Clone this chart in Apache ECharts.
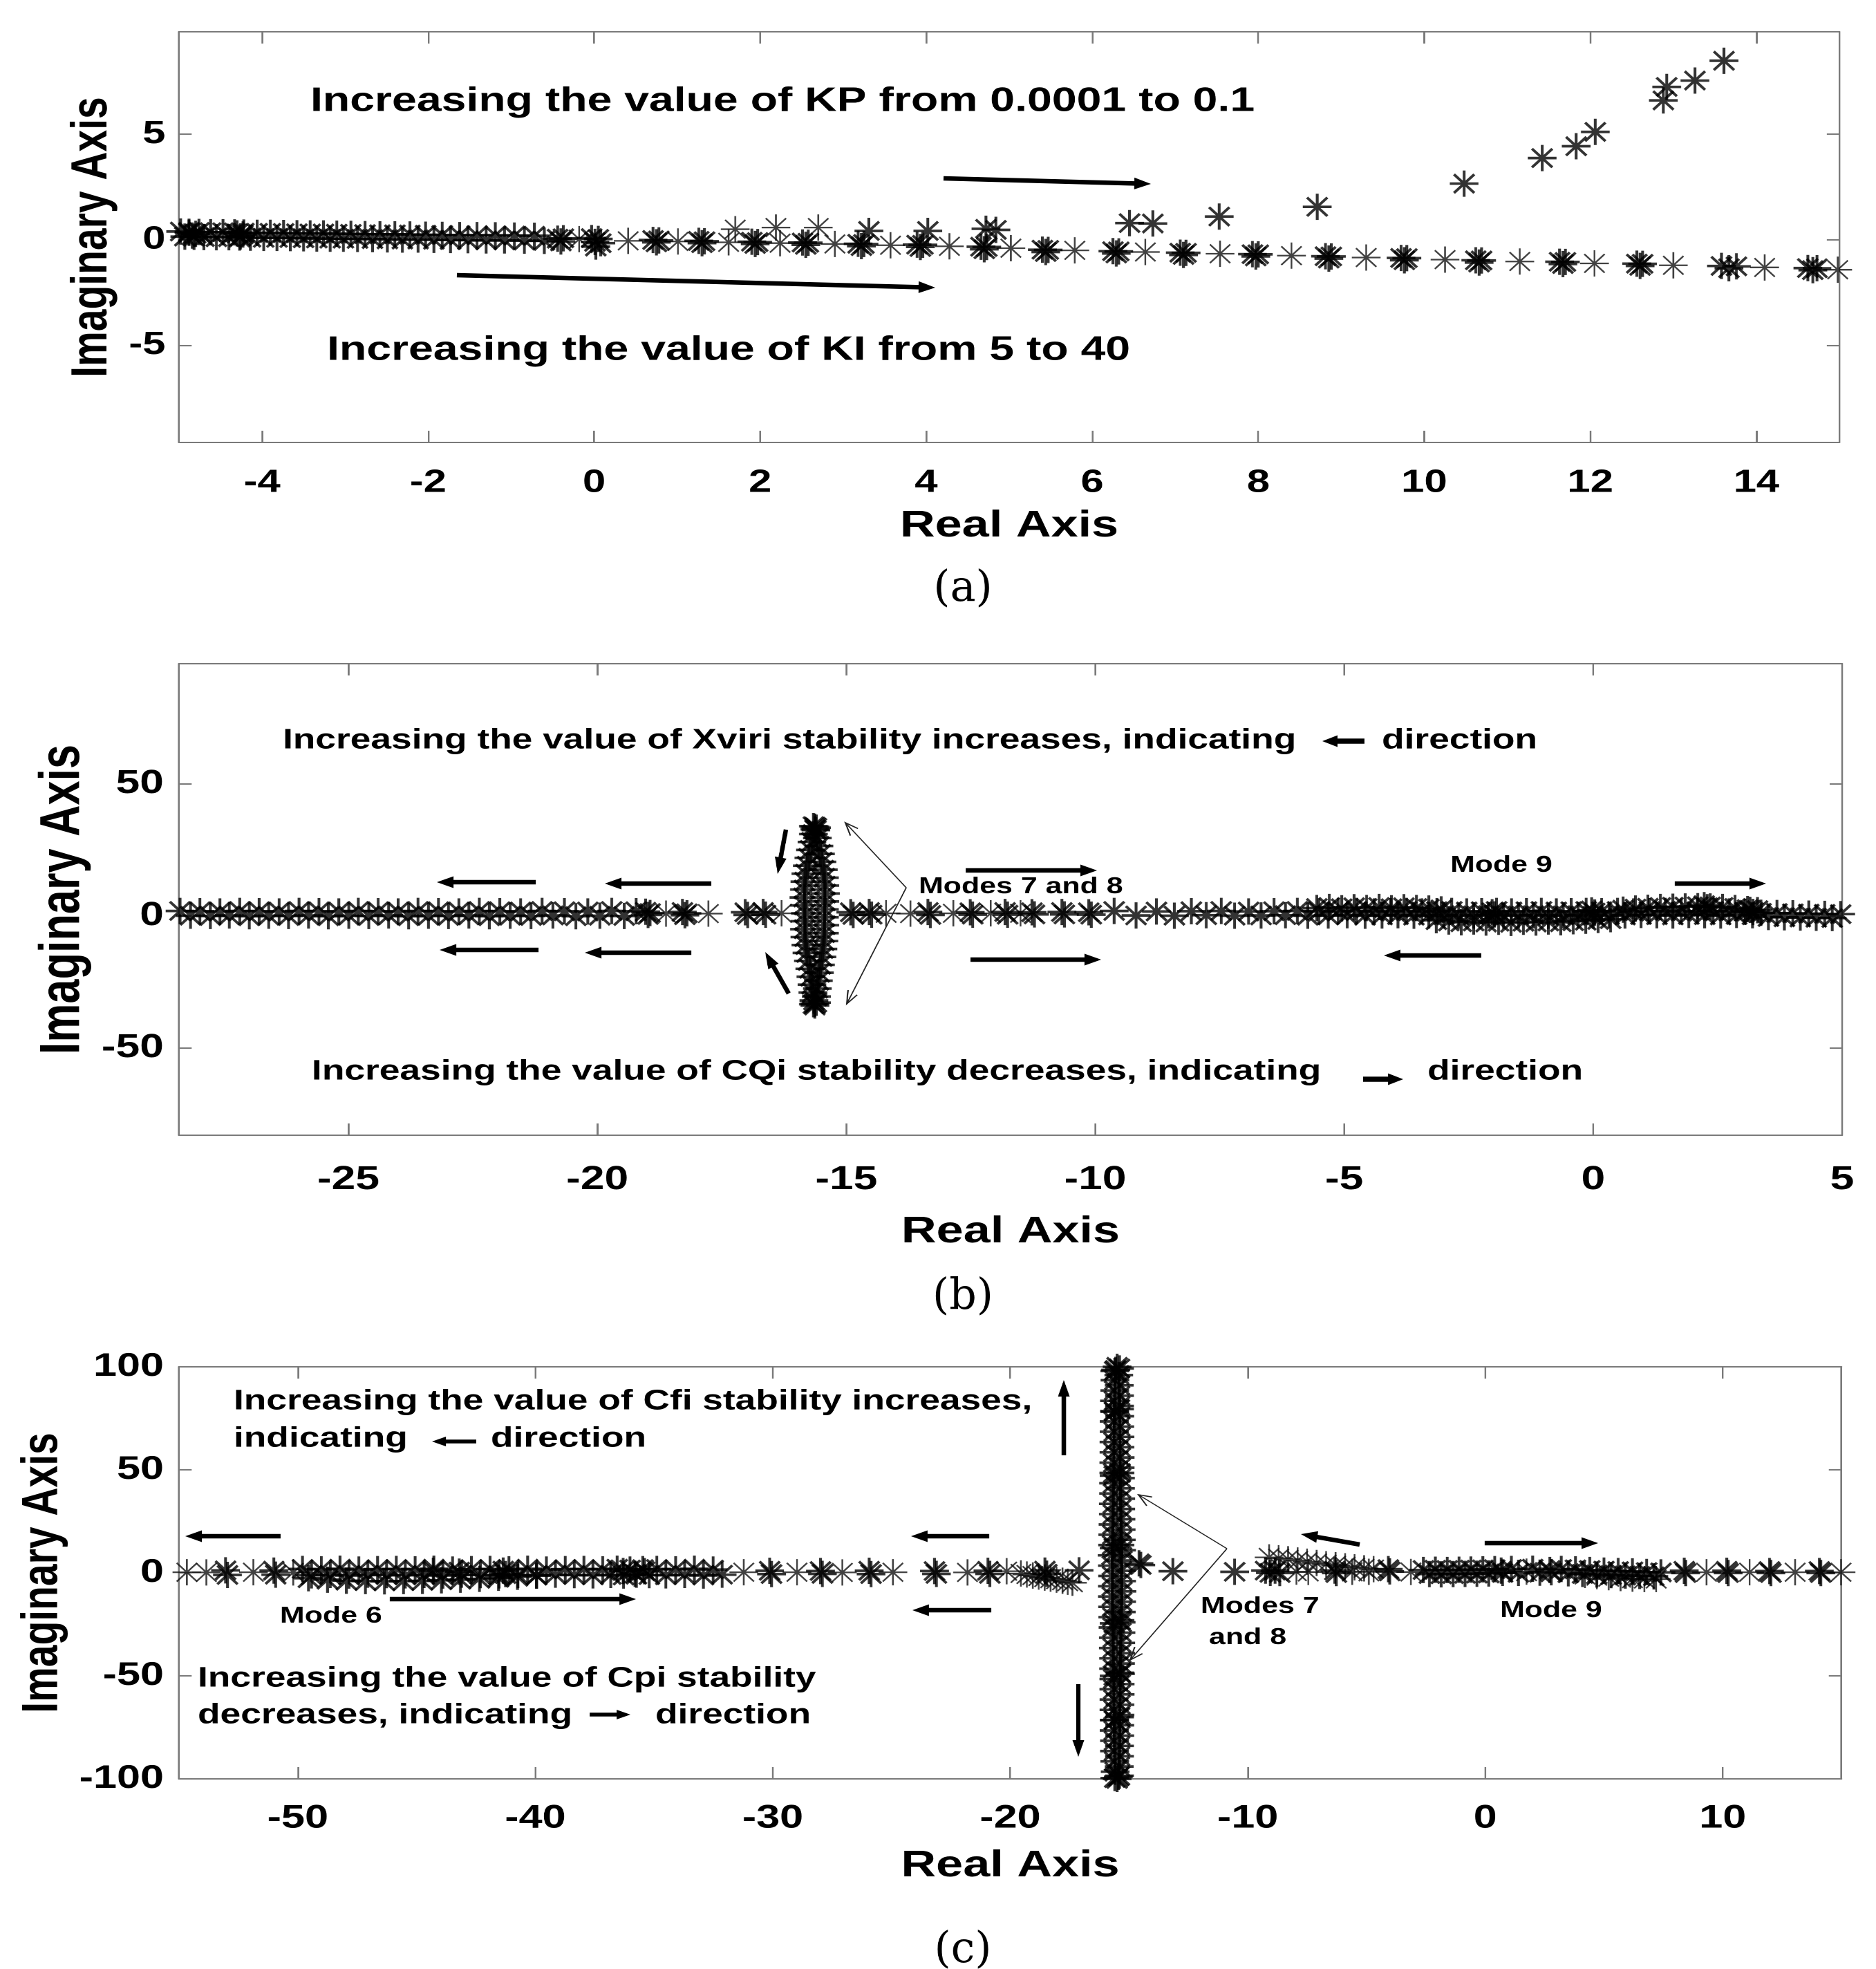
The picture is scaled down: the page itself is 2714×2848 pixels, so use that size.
<!DOCTYPE html>
<html><head><meta charset="utf-8">
<script src="https://cdn.jsdelivr.net/npm/echarts@6/dist/echarts.min.js"></script>
<style>
html,body{margin:0;padding:0;background:#fff;overflow:hidden;}
#chart{position:absolute;left:0;top:0;height:2848px;transform-origin:0 0;}
</style></head><body><div id="chart"></div>
<script>
// ---------------- tick labels ----------------
const aXTicks = [-4,-2,0,2,4,6,8,10,12,14];
const aYTicks = [-5,0,5];
const bXTicks = [-25,-20,-15,-10,-5,0,5];
const bYTicks = [-50,0,50];
const cXTicks = [-50,-40,-30,-20,-10,0,10];
const cYTicks = [-100,-50,0,50,100];

// ---------------- panel (a) data ----------------
const aBandX = [-4.98,-4.93,-4.88,-4.82,-4.76,-4.70,-4.62,-4.55,-4.47,-4.40,-4.33,-4.27,-4.22,-4.14,-4.06,-3.98,-3.90,-3.82,-3.74,-3.66,-3.58,-3.50,-3.42,-3.34,-3.26,-3.18,-3.10,-3.02,-2.93,-2.85,-2.76,-2.67,-2.58,-2.49,-2.40,-2.31,-2.22,-2.12,-2.03,-1.93,-1.83,-1.73,-1.62,-1.52,-1.41,-1.30,-1.19,-1.08,-0.96,-0.84,-0.72,-0.60];
const aBandY = [0.39,0.15,0.38,0.14,0.37,0.13,0.36,0.12,0.36,0.12,0.35,0.11,0.34,0.10,0.33,0.09,0.33,0.09,0.32,0.08,0.31,0.07,0.30,0.06,0.30,0.05,0.29,0.05,0.28,0.04,0.27,0.03,0.26,0.02,0.26,0.01,0.25,0.01,0.24,0.00,0.23,-0.01,0.22,-0.02,0.22,-0.03,0.21,-0.03,0.20,-0.04,0.19,-0.05];
const aClusters = [
 [-4.88,0.33],[-4.84,0.20],[-4.80,0.28],[-4.30,0.30],[-4.26,0.16],[-4.23,0.25],
 [-0.44,0.05],[-0.40,-0.08],[-0.37,0.07],[-0.03,0.08],[0.01,-0.10],[0.05,0.04],[0.08,-0.16],[0.02,-0.32],
 [0.71,-0.01],[0.75,-0.12],[0.78,-0.03],[1.26,-0.05],[1.30,-0.16],[1.33,-0.07],
 [1.90,-0.09],[1.94,-0.20],[1.97,-0.11],[2.51,-0.13],[2.55,-0.24],[2.58,-0.14],
 [3.18,-0.19],[3.22,-0.30],[3.25,-0.20],[3.89,-0.23],[3.93,-0.34],[3.96,-0.24],
 [4.66,-0.33],[4.70,-0.45],[4.73,-0.34],[5.40,-0.47],[5.44,-0.58],[5.47,-0.48],
 [6.25,-0.54],[6.29,-0.65],[6.32,-0.55],[7.06,-0.61],[7.10,-0.72],[7.13,-0.62],
 [7.93,-0.68],[7.97,-0.79],[8.00,-0.69],[8.81,-0.78],[8.85,-0.89],[8.88,-0.79],
 [9.72,-0.86],[9.76,-0.97],[9.79,-0.87],[10.62,-0.97],[10.66,-1.08],[10.69,-0.98],
 [11.63,-1.04],[11.67,-1.15],[11.70,-1.05],[12.56,-1.13],[12.60,-1.24],[12.63,-1.14],
 [13.58,-1.24],[13.67,-1.35],[13.76,-1.26],[14.62,-1.34],[14.68,-1.44],[14.73,-1.35]
];
const aSingles = [[-0.18,0.03],[0.41,-0.05],[1.01,-0.08],[1.62,-0.12],[2.24,-0.16],[2.90,-0.20],[3.57,-0.26],[4.28,-0.31],[5.02,-0.40],[5.79,-0.50],[6.64,-0.58],[7.54,-0.66],[8.40,-0.75],[9.30,-0.84],[10.25,-0.94],[11.15,-1.03],[12.05,-1.12],[13.00,-1.21],[14.10,-1.31],[14.98,-1.42]];
const aKPFaint = [[1.70,0.50],[2.19,0.58],[2.70,0.58]];
const aKP = [[3.31,0.42],[4.02,0.42],[4.72,0.52],[4.84,0.47],[6.45,0.79],[6.73,0.77],[7.53,1.10],[8.71,1.56],[10.48,2.66],[11.42,3.87],[11.83,4.43],[12.06,5.11],[12.88,6.60],[12.92,7.24],[13.26,7.54],[13.61,8.48]];

// ---------------- panel (b) data ----------------
const bDenseX = [-28.38,-28.17,-27.98,-27.77,-27.58,-27.39,-27.18,-26.99,-26.79,-26.60,-26.39,-26.20,-25.99,-25.80,-25.59,-25.40,-25.19,-24.99,-24.80,-24.59,-24.40,-24.19,-24.00,-23.79,-23.60,-23.39,-23.19,-22.99,-22.78,-22.58,-22.37,-22.17,-21.96,-21.75,-21.54,-21.33,-21.11,-20.89,-20.66,-20.43,-20.19,-19.95,-19.71,-19.46,-19.22];
const bDenseY = [1.9,0.1,1.8,0.0,1.7,0.2,1.9,-0.1,1.8,0.1,1.7,0.0,1.9,0.2,1.8,-0.1,1.7,0.1,1.9,0.0,1.8,0.2,1.7,-0.1,1.9,0.1,1.8,0.0,1.7,0.2,1.9,-0.1,1.8,0.1,1.7,0.0,1.9,0.2,1.8,-0.1,1.7,0.1,1.9,0.0,1.8];
const bMidHeavy = [[-19.03,1.6],[-18.98,0.4],[-18.94,1.1],[-18.29,1.5],[-18.24,0.3],[-18.20,1.0],[-17.03,1.4],[-16.98,0.4],[-16.67,1.5],[-16.62,0.5],[-14.91,1.4],[-14.86,0.4],[-14.54,1.5],[-14.49,0.5],[-13.36,1.5],[-13.31,0.4],[-12.51,1.4],[-12.46,0.5],[-11.81,1.5],[-11.76,0.5],[-11.27,1.4],[-11.22,0.6],[-10.67,1.5],[-10.62,0.6],[-10.13,1.4],[-10.08,0.5]];
const bMidLight = [[-18.62,0.9],[-17.77,0.9],[-16.30,1.0],[-14.20,1.0],[-13.71,0.9],[-12.85,1.0],[-12.10,1.0],[-11.50,1.0]];
const bRightX = [-9.62,-9.18,-8.77,-8.41,-8.07,-7.77,-7.47,-7.20,-6.92,-6.67,-6.41,-6.18,-5.94,-5.73,-5.51,-5.32,-5.12,-4.94,-4.75,-4.58,-4.40,-4.24,-4.07,-3.92,-3.75,-3.60,-3.44,-3.30,-3.14,-3.00,-2.84,-2.70,-2.54,-2.40,-2.24,-2.10,-1.94,-1.80,-1.64,-1.50,-1.34,-1.20,-1.04,-0.90,-0.74,-0.60,-0.44,-0.30,-0.14,0.00,0.17,0.32,0.49,0.64,0.81,0.96,1.13,1.28,1.45,1.60,1.77,1.92,2.09,2.24,2.41,2.56,2.73,2.88,3.05,3.20,3.37,3.52,3.69,3.84,4.01,4.16,4.33,4.48,4.65,4.80,4.97];
const bRightY = [1.9,0.2,1.7,0.1,1.8,0.3,1.9,0.1,1.7,0.2,1.8,0.3,1.9,0.1,1.7,0.2,1.8,0.3,1.9,0.1,1.7,0.2,1.8,0.3,1.9,0.1,1.7,0.2,1.8,0.3,1.9,0.1,1.7,0.2,1.8,0.3,1.9,0.1,1.7,0.2,1.8,0.3,1.9,0.1,1.7,0.2,1.8,0.3,1.9,0.1,1.8,0.3,1.9,0.2,1.7,0.4,1.8,0.3,1.9,0.2,1.7,0.4,1.8,0.3,1.9,0.2,1.7,0.4,1.6,0.3,1.2,-0.4,1.1,-0.5,1.0,-0.6,0.9,-0.7,0.8,-0.8,0.7];
const bStrandA = [[-5.55,3.0],[-5.30,3.4],[-5.05,2.9],[-4.80,3.3],[-4.55,3.0],[-4.30,3.4],[-4.05,2.9],[-3.80,3.3],[-3.55,3.0],[-3.30,2.8],[-3.05,2.5]];
const bStrandB = [[-3.15,-1.6],[-2.90,-2.1],[-2.65,-2.4],[-2.40,-2.1],[-2.15,-2.5],[-1.90,-2.2],[-1.65,-2.6],[-1.40,-2.2],[-1.15,-2.5],[-0.90,-2.1],[-0.65,-2.4],[-0.40,-2.0],[-0.15,-1.8],[0.10,-1.5],[0.35,-1.2]];
const bStrandC = [[0.60,2.4],[0.85,2.8],[1.10,3.1],[1.35,3.4],[1.60,3.5],[1.85,3.6],[2.10,3.7],[2.35,3.6],[2.60,3.4],[2.85,3.0],[3.10,2.6],[3.30,2.2]];
const bRightHeavy = [[-2.03,1.4],[-1.98,0.6],[-0.03,2.1],[0.03,1.3],[2.23,4.1],[2.29,3.3],[3.15,2.3],[3.21,1.5]];
const bColUp = [[-15.82,1.0],[-15.44,2.5],[-15.84,4.0],[-15.43,5.5],[-15.85,7.0],[-15.42,8.5],[-15.84,10.0],[-15.43,11.5],[-15.83,13.0],[-15.44,14.5],[-15.81,16.0],[-15.46,17.5],[-15.78,19.0],[-15.49,20.5],[-15.75,22.0],[-15.52,23.5],[-15.72,25.0],[-15.55,26.5],[-15.69,28.0],[-15.58,29.5],[-15.66,31.0],[-15.61,32.5],[-15.63,33.8]];
const bColDown = [[-15.44,-0.5],[-15.83,-2.0],[-15.43,-3.5],[-15.84,-5.0],[-15.44,-6.5],[-15.83,-8.0],[-15.45,-9.5],[-15.81,-11.0],[-15.47,-12.5],[-15.79,-14.0],[-15.49,-15.5],[-15.76,-17.0],[-15.52,-18.5],[-15.73,-20.0],[-15.54,-21.5],[-15.71,-23.0],[-15.56,-24.5],[-15.69,-26.0],[-15.58,-27.5],[-15.67,-29.0],[-15.60,-30.5],[-15.65,-32.0],[-15.63,-33.2]];
const bColHeavy = [[-15.66,34.0],[-15.60,33.4],[-15.63,32.8],[-15.66,-33.4],[-15.60,-32.8],[-15.63,-33.9]];

// ---------------- panel (c) data ----------------
const cLeftHeavy = [[-53.04,1.2],[-52.96,-1.0],[-51.01,1.1],[-50.93,-0.9]];
const cLeftLight = [[-54.67,0.3],[-53.85,0.2],[-51.87,0.3],[-50.19,0.2]];
const cDenseX = [-49.80,-49.42,-49.01,-48.63,-48.22,-47.84,-47.43,-47.05,-46.64,-46.26,-45.85,-45.47,-45.06,-44.68,-44.27,-43.89,-43.48,-43.10,-42.69,-42.31,-41.90,-41.52,-41.11,-40.73,-40.32,-39.94,-39.53,-39.15,-38.74,-38.36,-37.95,-37.57,-37.16,-36.82,-36.55,-36.28,-36.01,-35.74,-35.47,-35.20,-34.88,-34.50,-34.09,-33.71,-33.30,-32.92,-32.51,-32.13];
const cDenseY = [1.9,-1.2,1.7,-1.0,2.0,-1.3,1.6,-0.9,1.8,-1.1,1.9,-1.2,1.7,-1.0,2.0,-1.3,1.6,-0.9,1.8,-1.1,1.9,-1.2,1.7,-1.0,2.0,-1.3,1.6,-0.9,1.8,-1.1,1.9,-1.2,1.7,-1.0,2.0,-1.3,1.6,-0.9,1.8,-1.1,1.9,-1.2,1.7,-1.0,2.0,-1.3,1.6,-0.9];
const cLowStrand = [[-49.55,-2.6],[-48.75,-3.3],[-47.95,-3.8],[-47.15,-4.0],[-46.35,-4.1],[-45.55,-4.0],[-44.75,-3.9],[-43.95,-3.6],[-43.15,-3.3],[-42.35,-2.9],[-41.55,-2.4],[-40.75,-1.9],[-39.95,-1.3]];
const cDenseHeavy = [[-44.30,1.0],[-43.20,0.6],[-41.35,1.1],[-41.25,-0.6],[-36.30,0.9],[-35.80,-0.4],[-35.40,0.8]];
const cMidHeavy = [[-30.13,1.0],[-30.05,-0.6],[-27.99,0.9],[-27.91,-0.5],[-25.94,1.0],[-25.86,-0.6],[-23.19,0.9],[-23.11,-0.5],[-20.94,1.0],[-20.86,-0.5],[-18.54,1.1],[-18.46,-0.4]];
const cMidLight = [[-31.22,0.3],[-28.98,0.3],[-27.07,0.2],[-24.94,0.3],[-21.80,0.2],[-20.15,0.8]];
const cTail = [[-19.55,-0.3],[-19.30,-0.8],[-19.05,-1.3],[-18.80,-1.8],[-18.55,-2.3],[-18.30,-2.8],[-18.05,-3.3],[-17.80,-3.8],[-17.58,-4.3],[-17.38,-4.8]];
const cNearCol = [[-17.10,1.2],[-14.58,4.6],[-14.50,3.8],[-13.15,0.8],[-10.55,0.5]];
const cColUp = [[-15.32,1.0],[-15.70,3.5],[-15.30,6.0],[-15.71,8.5],[-15.31,11.0],[-15.69,13.5],[-15.32,16.0],[-15.68,18.5],[-15.33,21.0],[-15.67,23.5],[-15.34,26.0],[-15.66,28.5],[-15.35,31.0],[-15.66,33.5],[-15.35,36.0],[-15.65,38.5],[-15.36,41.0],[-15.65,43.5],[-15.36,46.0],[-15.64,48.5],[-15.37,51.0],[-15.64,53.5],[-15.37,56.0],[-15.63,58.5],[-15.38,61.0],[-15.63,63.5],[-15.38,66.0],[-15.62,68.5],[-15.39,71.0],[-15.62,73.5],[-15.39,76.0],[-15.61,78.5],[-15.40,81.0],[-15.61,83.5],[-15.40,86.0],[-15.60,88.5],[-15.41,91.0],[-15.59,93.5],[-15.43,96.0],[-15.56,98.5],[-15.50,100.0]];
const cColDown = [[-15.69,-1.5],[-15.31,-4.0],[-15.70,-6.5],[-15.30,-9.0],[-15.70,-11.5],[-15.31,-14.0],[-15.69,-16.5],[-15.32,-19.0],[-15.68,-21.5],[-15.33,-24.0],[-15.67,-26.5],[-15.34,-29.0],[-15.66,-31.5],[-15.35,-34.0],[-15.66,-36.5],[-15.35,-39.0],[-15.65,-41.5],[-15.36,-44.0],[-15.65,-46.5],[-15.36,-49.0],[-15.64,-51.5],[-15.37,-54.0],[-15.64,-56.5],[-15.37,-59.0],[-15.63,-61.5],[-15.38,-64.0],[-15.63,-66.5],[-15.38,-69.0],[-15.62,-71.5],[-15.39,-74.0],[-15.62,-76.5],[-15.39,-79.0],[-15.61,-81.5],[-15.40,-84.0],[-15.61,-86.5],[-15.40,-89.0],[-15.60,-91.5],[-15.41,-94.0],[-15.58,-96.5],[-15.45,-99.0],[-15.50,-100.0]];
const cColHeavy = [[-15.40,99.2],[-15.60,98.0],[-15.40,79.5],[-15.60,78.2],[-15.38,48.5],[-15.62,47.2],[-15.38,13.5],[-15.62,12.0],[-15.38,-23.0],[-15.62,-24.5],[-15.38,-48.5],[-15.62,-50.0],[-15.40,-70.0],[-15.60,-71.5],[-15.40,-98.5],[-15.60,-99.6]];
const cRightHeavy = [[-9.25,1.1],[-9.05,0.0],[-8.85,1.1],[-8.65,-0.1],[-6.33,1.1],[-6.27,-0.1],[-4.08,1.8],[-4.02,0.7],[0.67,1.1],[0.73,0.0],[2.72,1.4],[2.78,0.3],[8.38,1.0],[8.44,-0.1],[10.17,1.0],[10.23,-0.1],[11.97,0.9],[12.03,-0.1],[14.07,0.9],[14.13,-0.1]];
const cRightLight = [[-7.95,0.6],[-7.45,0.4],[-5.60,0.5],[-4.90,0.5],[-3.13,0.4],[1.74,0.6],[9.32,0.3],[11.13,0.3],[13.05,0.3],[14.98,0.3]];
const cUpperTail = [[-9.10,7.5],[-8.70,7.1],[-8.30,6.6],[-7.90,6.0],[-7.50,5.4],[-7.10,4.8],[-6.70,4.2],[-6.30,3.7],[-5.90,3.2],[-5.50,2.7],[-5.10,2.2],[-4.70,1.8]];
const cDenseR1 = [[-2.60,1.4],[-2.35,-0.6],[-2.10,1.5],[-1.85,-0.7],[-1.60,1.4],[-1.35,-0.6],[-1.10,1.5],[-0.85,-0.5],[-0.60,1.6],[-0.35,-0.4],[-0.10,1.7],[0.15,-0.3],[0.40,1.8]];
const cDenseR2 = [[1.10,1.9],[1.40,0.0],[2.00,2.0],[2.30,0.1],[3.20,1.9],[3.50,-0.2],[3.80,1.7],[4.10,-0.5],[4.40,1.4],[4.70,-0.8],[5.00,1.1],[5.30,-1.1],[5.60,0.9],[5.90,-1.3],[6.20,0.7],[6.50,-1.5],[6.80,0.4],[7.10,-1.7],[7.40,0.2]];
const cLowTail = [[4.20,-1.0],[4.70,-1.6],[5.20,-2.1],[5.70,-2.5],[6.20,-2.8],[6.70,-3.0],[7.20,-3.0]];

// ---------------- rendering ----------------
const S = 1.3;                 // horizontal stretch of the original figure
const FONT = "'Liberation Sans', Arial, Helvetica, sans-serif";
const dom = document.getElementById('chart');
dom.style.width = (2714 / S) + 'px';
dom.style.transform = 'scaleX(' + S + ')';
const chart = echarts.init(dom, null, {renderer: 'canvas', devicePixelRatio: 2});

const STAR = 'path://M10,0L10,20M0,10L20,10M2.93,2.93L17.07,17.07M2.93,17.07L17.07,2.93';
const zip = (xs, ys) => xs.slice(0, Math.min(xs.length, ys.length)).map((x, i) => [x, ys[i]]);
const NORM = {color: '#000', borderColor: '#000', borderWidth: 3.4};
const LIGHT = {color: '#111', borderColor: '#111', borderWidth: 2.1};

const panels = [
  {box: [259, 46, 2661, 640], x: [-5, 15], y: [-9.6, 9.85], xt: aXTicks, yt: aYTicks, tf: 46, mx: 36, my: 15, gx: 94, gy: 68, yf: 57},
  {box: [259, 960, 2665, 1642], x: [-28.4, 5], y: [-83, 95.5], xt: bXTicks, yt: bYTicks, tf: 48, mx: 41, my: 17, gx: 113, gy: 87, yf: 63},
  {box: [259, 1977, 2664, 2573], x: [-55, 15], y: [-100, 100], xt: cXTicks, yt: cYTicks, tf: 47, mx: 34, my: 17, gx: 99, gy: 123, yf: 57}
];
const AX = {color: '#7a7a7a', width: 2};
const grids = [], xAxes = [], yAxes = [];
panels.forEach((p, i) => {
  const [L, T, R, B] = p.box;
  grids.push({left: L / S, top: T, width: (R - L) / S, height: B - T});
  const lab = {fontSize: p.tf, fontWeight: 'bold', fontFamily: FONT, color: '#000'};
  xAxes.push({type: 'value', gridIndex: i, position: 'bottom', min: p.x[0], max: p.x[1],
    axisLine: {show: true, onZero: false, lineStyle: AX},
    axisTick: {show: true, inside: true, length: 17, customValues: p.xt, lineStyle: AX},
    axisLabel: Object.assign({show: true, margin: p.mx, customValues: p.xt}, lab),
    splitLine: {show: false},
    name: 'Real Axis', nameLocation: 'middle', nameGap: p.gx,
    nameTextStyle: {fontSize: 54, fontWeight: 'bold', fontFamily: FONT, color: '#000'}});
  xAxes.push({type: 'value', gridIndex: i, position: 'top', min: p.x[0], max: p.x[1],
    axisLine: {show: true, onZero: false, lineStyle: AX},
    axisTick: {show: true, inside: true, length: 17, customValues: p.xt, lineStyle: AX},
    axisLabel: {show: false}, splitLine: {show: false}});
  yAxes.push({type: 'value', gridIndex: i, position: 'left', min: p.y[0], max: p.y[1],
    axisLine: {show: true, onZero: false, lineStyle: AX},
    axisTick: {show: true, inside: true, length: 14, customValues: p.yt, lineStyle: AX},
    axisLabel: Object.assign({show: true, margin: p.my, customValues: p.yt}, lab),
    splitLine: {show: false},
    name: 'Imaginary Axis', nameLocation: 'middle', nameGap: p.gy,
    nameTextStyle: {fontSize: p.yf, fontWeight: 'bold', fontFamily: FONT, color: '#000'}});
  yAxes.push({type: 'value', gridIndex: i, position: 'right', min: p.y[0], max: p.y[1],
    axisLine: {show: true, onZero: false, lineStyle: AX},
    axisTick: {show: true, inside: true, length: 14, customValues: p.yt, lineStyle: AX},
    axisLabel: {show: false}, splitLine: {show: false}});
});

const series = [];
function scat(p, data, light) {
  series.push({type: 'scatter', xAxisIndex: 2 * p, yAxisIndex: 2 * p, data: data,
    symbol: STAR, symbolSize: [32, 38], silent: true, animation: false,
    emphasis: {disabled: true}, itemStyle: light ? LIGHT : NORM, z: light ? 2 : 3});
}
scat(0, zip(aBandX, aBandY)); scat(0, aClusters); scat(0, aSingles, true);
scat(0, aKPFaint, true); scat(0, aKP);
scat(1, zip(bDenseX, bDenseY)); scat(1, bMidHeavy); scat(1, bMidLight, true);
scat(1, zip(bRightX, bRightY)); scat(1, bStrandA); scat(1, bStrandB); scat(1, bStrandC);
scat(1, bRightHeavy); scat(1, bColUp); scat(1, bColDown); scat(1, bColHeavy);
scat(2, cLeftHeavy); scat(2, cLeftLight, true); scat(2, zip(cDenseX, cDenseY));
scat(2, cLowStrand); scat(2, cDenseHeavy); scat(2, cMidHeavy); scat(2, cMidLight, true);
scat(2, cTail, true); scat(2, cNearCol); scat(2, cColUp); scat(2, cColDown); scat(2, cColHeavy);
scat(2, cRightHeavy); scat(2, cRightLight, true); scat(2, cUpperTail, true);
scat(2, cDenseR1); scat(2, cDenseR2); scat(2, cLowTail, true);

// ---------------- annotations (page pixels of the figure) ----------------
const G = [];
function label(str, x, y, size) {
  G.push({type: 'text', x: x / S, y: y, silent: true, z: 20,
    style: {text: str, fontSize: size, fontWeight: 'bold', fontFamily: FONT, fill: '#000',
      align: 'left', verticalAlign: 'middle', textAlign: 'left', textVerticalAlign: 'middle'}});
}
function caption(str, cx, cy) {
  G.push({type: 'text', x: cx / S, y: cy, scaleX: 1 / S, silent: true, z: 20,
    style: {text: str, fontSize: 62, fontFamily: "'DejaVu Serif','Liberation Serif',serif", fill: '#000',
      align: 'center', verticalAlign: 'middle', textAlign: 'center', textVerticalAlign: 'middle'}});
}
function arrow(x1, y1, x2, y2, w, hl, hw) {
  w = w || 6.5; hl = hl || 24; hw = hw || 17;
  const dx = x2 - x1, dy = y2 - y1, L = Math.hypot(dx, dy), ux = dx / L, uy = dy / L, nx = -uy, ny = ux;
  const bx = x2 - ux * hl, by = y2 - uy * hl;
  const pts = [[x1 + nx * w / 2, y1 + ny * w / 2], [bx + nx * w / 2, by + ny * w / 2], [bx + nx * hw / 2, by + ny * hw / 2], [x2, y2],
    [bx - nx * hw / 2, by - ny * hw / 2], [bx - nx * w / 2, by - ny * w / 2], [x1 - nx * w / 2, y1 - ny * w / 2]];
  G.push({type: 'polygon', silent: true, z: 15, shape: {points: pts.map(q => [q[0] / S, q[1]])}, style: {fill: '#000'}});
}
function pointer(x1, y1, x2, y2) {
  G.push({type: 'polyline', silent: true, z: 15, shape: {points: [[x1 / S, y1], [x2 / S, y2]]}, style: {stroke: '#222', lineWidth: 1.4, fill: null}});
  const a = Math.atan2(y1 - y2, x1 - x2), len = 20, sp = 0.38;
  const p1 = [x2 + len * Math.cos(a + sp), y2 + len * Math.sin(a + sp)];
  const p2 = [x2 + len * Math.cos(a - sp), y2 + len * Math.sin(a - sp)];
  G.push({type: 'polyline', silent: true, z: 15, shape: {points: [[p1[0] / S, p1[1]], [x2 / S, y2], [p2[0] / S, p2[1]]]}, style: {stroke: '#222', lineWidth: 1.6, fill: null}});
}

// panel (a)
label('Increasing the value of KP from 0.0001 to 0.1', 449, 147, 49.5);
label('Increasing the value of KI from 5 to 40', 473, 507, 49.5);
arrow(1365, 258, 1665, 266);
arrow(661, 398, 1353, 416);
caption('(a)', 1393, 853);

// panel (b)
label('Increasing the value of Xviri stability increases, indicating', 409, 1071, 41);
arrow(1974, 1072, 1913, 1072, 7.5, 22, 17);
label('direction', 1999, 1071, 41);
label('Increasing the value of CQi stability decreases, indicating', 451, 1550, 41);
arrow(1972, 1561, 2030, 1561, 7.5, 22, 17);
label('direction', 2065, 1550, 41);
label('Modes 7 and 8', 1329, 1283, 33);
label('Mode 9', 2098, 1252, 33);
arrow(775, 1276, 632, 1276);
arrow(1029, 1278, 875, 1278);
arrow(779, 1374, 636, 1374);
arrow(1000, 1378, 846, 1378);
arrow(1137, 1200, 1125, 1264);
arrow(1141, 1437, 1107, 1377);
arrow(1397, 1259, 1587, 1259);
arrow(1404, 1388, 1593, 1388);
arrow(2143, 1382, 2002, 1382);
arrow(2423, 1278, 2555, 1278);
pointer(1311, 1284, 1223, 1190);
pointer(1311, 1284, 1225, 1452);
caption('(b)', 1393, 1877);

// panel (c)
label('Increasing the value of Cfi stability increases,', 338, 2027, 41);
label('indicating', 338, 2081, 41);
arrow(689, 2085, 625, 2085, 5.5, 20, 14);
label('direction', 710, 2081, 41);
label('Increasing the value of Cpi stability', 286, 2428, 41);
label('decreases, indicating', 286, 2481, 41);
arrow(853, 2480, 912, 2480, 5.5, 20, 14);
label('direction', 948, 2481, 41);
label('Mode 6', 405, 2338, 33);
label('Modes 7', 1737, 2324, 33);
label('and 8', 1749, 2369, 33);
label('Mode 9', 2170, 2330, 33);
arrow(406, 2222, 268, 2222);
arrow(1431, 2222, 1318, 2222);
arrow(1434, 2329, 1320, 2329);
arrow(564, 2313, 920, 2313);
arrow(1539, 2105, 1539, 1996);
arrow(1560, 2436, 1560, 2541);
arrow(1967, 2234, 1882, 2219);
arrow(2148, 2232, 2312, 2232);
pointer(1775, 2240, 1647, 2162);
pointer(1775, 2240, 1635, 2401);
caption('(c)', 1393, 2822);

chart.setOption({
  backgroundColor: '#fff',
  animation: false,
  grid: grids,
  xAxis: xAxes,
  yAxis: yAxes,
  series: series,
  graphic: {elements: G}
});
</script></body></html>
